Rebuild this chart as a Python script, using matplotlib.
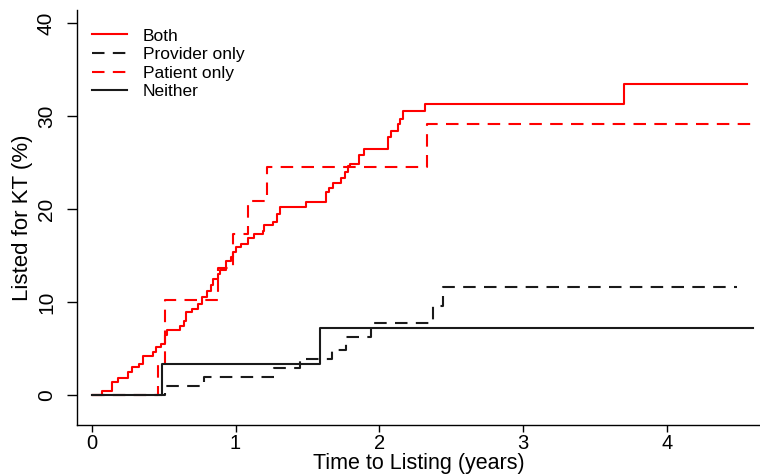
import matplotlib
matplotlib.use("Agg")
import matplotlib.pyplot as plt

plt.rcParams['font.family'] = ['Liberation Sans', 'DejaVu Sans']

# Kaplan-Meier style step data (years, % listed)
both_t = [0, 0.074, 0.144, 0.183, 0.253, 0.283, 0.329, 0.357, 0.427, 0.45,
          0.485, 0.508, 0.524, 0.612, 0.64, 0.659, 0.70, 0.74, 0.77, 0.80,
          0.83, 0.845, 0.88, 0.895, 0.937, 0.97, 0.98, 1.0, 1.04, 1.09,
          1.13, 1.19, 1.20, 1.26, 1.285, 1.31, 1.49, 1.63, 1.65, 1.68,
          1.73, 1.76, 1.78, 1.795, 1.86, 1.89, 2.06, 2.08, 2.13, 2.145,
          2.165, 2.32, 3.70]
both_pct = [0, 0.5, 1.4, 1.9, 2.45, 3.0, 3.4, 4.2, 4.6, 5.2,
            5.5, 6.5, 7.0, 7.4, 8.0, 8.9, 9.3, 9.8, 10.6, 11.2,
            11.8, 12.5, 13.0, 13.5, 14.4, 14.9, 15.4, 15.9, 16.3, 16.9,
            17.3, 17.7, 18.3, 18.6, 19.5, 20.2, 20.8, 21.8, 22.3, 22.8,
            23.3, 24.0, 24.6, 24.9, 25.8, 26.5, 27.8, 28.4, 29.1, 29.7,
            30.5, 31.3, 33.5]
both_end = 4.56

provider_t = [0, 0.51, 0.78, 1.27, 1.45, 1.67, 1.77, 1.94, 2.37, 2.44]
provider_pct = [0, 1.0, 1.95, 2.9, 3.85, 4.9, 6.3, 7.75, 9.6, 11.6]
provider_end = 4.49

patient_t = [0, 0.46, 0.51, 0.88, 0.98, 1.09, 1.22, 2.33]
patient_pct = [0, 3.4, 10.2, 13.7, 17.3, 20.9, 24.5, 29.2]
patient_end = 4.62

neither_t = [0, 0.49, 1.59]
neither_pct = [0, 3.4, 7.2]
neither_end = 4.6

xticks = [0, 1, 2, 3, 4]
yticks = [0, 10, 20, 30, 40]


def step_line(ax, t, p, end, **kw):
    ax.step(t + [end], p + [p[-1]], where='post', **kw)


fig = plt.figure(figsize=(7.6, 4.76), dpi=100)
ax = fig.add_axes([0.101, 0.107, 0.899, 0.872])

step_line(ax, both_t, both_pct, both_end, color='red', lw=1.5, label='Both')
step_line(ax, provider_t, provider_pct, provider_end, color='#1a1a1a', lw=1.5,
          dashes=(6, 4), label='Provider only')
step_line(ax, patient_t, patient_pct, patient_end, color='red', lw=1.5,
          dashes=(6, 4), label='Patient only')
step_line(ax, neither_t, neither_pct, neither_end, color='#1a1a1a', lw=1.5,
          label='Neither')

ax.set_xlim(-0.104, 4.647)
ax.set_ylim(-3.2, 41.4)
ax.set_xticks(xticks)
ax.set_yticks(yticks)
ax.set_yticklabels([str(v) for v in yticks], rotation=90, va='center')
ax.tick_params(axis='both', labelsize=15, width=1, direction='out')
ax.tick_params(axis='y', length=7, pad=8)
ax.tick_params(axis='x', length=5, pad=1.5, labelsize=14.5)

for s in ['top', 'right']:
    ax.spines[s].set_visible(False)
for s in ['left', 'bottom']:
    ax.spines[s].set_linewidth(1)

ax.set_xlabel('Time to Listing (years)', fontsize=15.5, labelpad=0)
ax.set_ylabel('Listed for KT (%)', fontsize=16, labelpad=3)

ax.legend(loc='upper left', bbox_to_anchor=(0.005, 0.985), frameon=False,
          fontsize=12.5, handlelength=2.0, handletextpad=0.9,
          labelspacing=0.2, borderaxespad=0.3)

fig.savefig('out.png', dpi=100)
